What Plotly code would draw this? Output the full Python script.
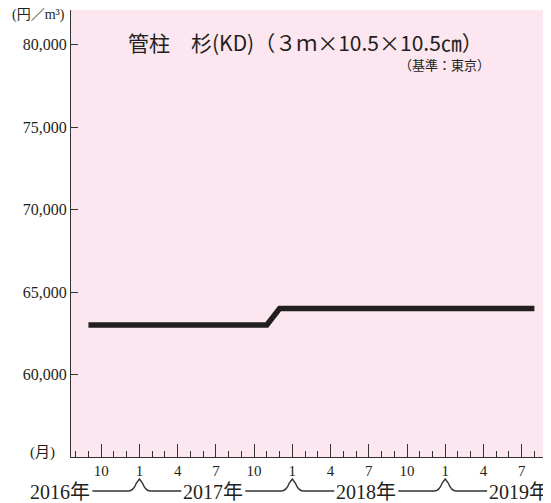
import plotly.graph_objects as go

# ---- data ----
months = ["2016-09", "2016-10", "2016-11", "2016-12",
          "2017-01", "2017-02", "2017-03", "2017-04", "2017-05", "2017-06",
          "2017-07", "2017-08", "2017-09", "2017-10", "2017-11", "2017-12",
          "2018-01", "2018-02", "2018-03", "2018-04", "2018-05", "2018-06",
          "2018-07", "2018-08", "2018-09", "2018-10", "2018-11", "2018-12",
          "2019-01", "2019-02", "2019-03", "2019-04", "2019-05", "2019-06",
          "2019-07", "2019-08"]
prices = [63000, 63000, 63000, 63000,
          63000, 63000, 63000, 63000, 63000, 63000,
          63000, 63000, 63000, 63000, 63000, 64000,
          64000, 64000, 64000, 64000, 64000, 64000,
          64000, 64000, 64000, 64000, 64000, 64000,
          64000, 64000, 64000, 64000, 64000, 64000,
          64000, 64000]
tick_months = ["2016-10", "2017-01", "2017-04", "2017-07", "2017-10", "2018-01",
               "2018-04", "2018-07", "2018-10", "2019-01", "2019-04", "2019-07"]
tick_text = ["10", "1", "4", "7", "10", "1", "4", "7", "10", "1", "4", "7"]
y_ticks = [60000, 65000, 70000, 75000, 80000]
y_ticktext = ["60,000", "65,000", "70,000", "75,000", "80,000"]
years = ["2016年", "2017年", "2018年", "2019年"]
title_text = "管柱　杉(KD)（３ｍ×10.5×10.5㎝）"
subtitle_text = "（基準：東京）"
unit_text = "(円／m³)"
month_unit = "(月)"


def midx(s):
    y, m = s.split("-")
    return (int(y) - 2016) * 12 + (int(m) - 1)


x = [midx(m) for m in months]

# ---- layout geometry (page body adds an 8px offset) ----
OFF = 8
W, H = 543, 495
L, R, T, B = 63, 6, 2, 46
PW, PH = W - L - R, H - T - B
X0, X1 = 6.63, 43.83
Y0, Y1 = 55000, 82100

TXT = "#231f20"
SERIF = "Liberation Serif, Noto Sans CJK JP"
SANS = "Noto Sans CJK JP, Noto Sans"


def px_x(p):
    return (p - OFF - L) / PW


def px_y(p):
    return (H - B - (p - OFF)) / PH


def idx_to_px(i):
    return OFF + L + (i - X0) / (X1 - X0) * PW


fig = go.Figure()
fig.add_trace(go.Scatter(x=x, y=prices, mode="lines",
                         line=dict(color="#231f20", width=5.5),
                         hoverinfo="skip", showlegend=False))

fig.update_layout(
    width=W, height=H,
    margin=dict(l=L, r=R, t=T, b=B),
    paper_bgcolor="white",
    plot_bgcolor="#fce6ef",
    showlegend=False,
    xaxis=dict(range=[X0, X1], showgrid=False, zeroline=False,
               tickvals=[midx(m) for m in tick_months], ticktext=tick_text,
               ticks="inside", ticklen=13, tickwidth=1.3, tickcolor="#333",
               showline=True, linecolor="#333", linewidth=1.3, mirror=False,
               tickfont=dict(family=SERIF, size=15, color=TXT),
               minor=dict(dtick=1, tick0=0, ticks="inside", ticklen=6,
                          tickwidth=1.3, tickcolor="#333")),
    yaxis=dict(range=[Y0, Y1], showgrid=False, zeroline=False,
               tickvals=y_ticks, ticktext=y_ticktext,
               ticks="inside", ticklen=7, tickwidth=1.3, tickcolor="#333",
               showline=True, linecolor="#333", linewidth=1.3,
               tickfont=dict(family=SERIF, size=16, color=TXT)),
)

# right border
fig.add_shape(type="line", xref="paper", yref="paper", x0=1, x1=1, y0=0, y1=1,
              line=dict(color="#333", width=1.3))

anns = []
anns.append(dict(text=title_text, xref="paper", yref="paper",
                 x=px_x(305), y=px_y(42), xanchor="center", yanchor="middle",
                 showarrow=False, font=dict(family=SANS, size=21, color=TXT)))
anns.append(dict(text=subtitle_text, xref="paper", yref="paper",
                 x=px_x(492), y=px_y(65), xanchor="right", yanchor="middle",
                 showarrow=False, font=dict(family=SANS, size=13, color=TXT)))
anns.append(dict(text=unit_text, xref="paper", yref="paper",
                 x=px_x(67), y=px_y(15), xanchor="right", yanchor="middle",
                 showarrow=False, font=dict(family=SERIF, size=14, color=TXT)))
anns.append(dict(text=month_unit, xref="paper", yref="paper",
                 x=px_x(57), y=px_y(452), xanchor="right", yanchor="middle",
                 showarrow=False, font=dict(family=SERIF, size=15, color=TXT)))

# year labels and connectors
YR_Y = 492
half_w = 32
centers = []
for k, yl in enumerate(years):
    c = idx_to_px(k * 12 + 5.8)
    centers.append(c)
    anns.append(dict(text=yl, xref="paper", yref="paper",
                     x=px_x(c), y=px_y(YR_Y), xanchor="center", yanchor="middle",
                     showarrow=False, font=dict(family=SERIF, size=20, color=TXT)))

for k in range(len(years) - 1):
    a = centers[k] + half_w
    b = centers[k + 1] - half_w
    c = idx_to_px((k + 1) * 12)
    y0 = px_y(YR_Y - 1)
    yp = px_y(YR_Y - 13)
    ym = px_y(YR_Y - 9)
    path = (f"M {px_x(a)},{y0} L {px_x(c - 11)},{y0} "
            f"Q {px_x(c - 6)},{y0} {px_x(c - 3)},{ym} L {px_x(c)},{yp} "
            f"L {px_x(c + 3)},{ym} Q {px_x(c + 6)},{y0} {px_x(c + 11)},{y0} "
            f"L {px_x(b)},{y0}")
    fig.add_shape(type="path", xref="paper", yref="paper", path=path,
                  line=dict(color="#333", width=1.4))

fig.update_layout(annotations=anns)
fig.write_html("out.html")
